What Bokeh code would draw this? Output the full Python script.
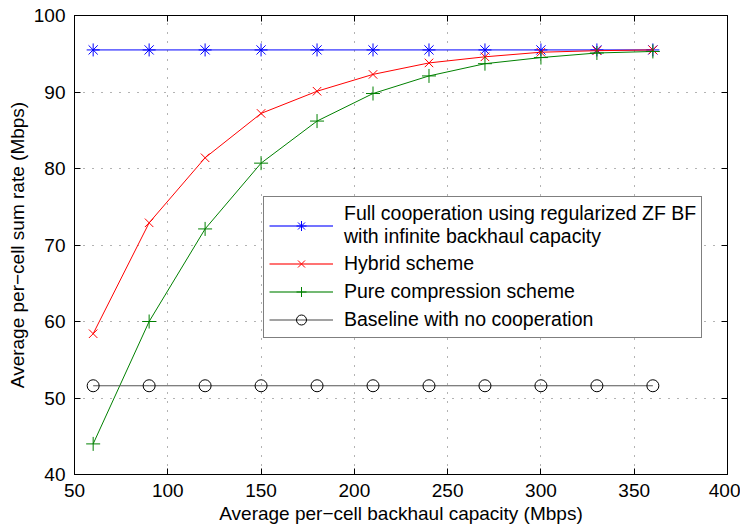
from bokeh.plotting import figure
from bokeh.models import LinearAxis, Legend, LegendItem, Range1d, FixedTicker, CustomJSTickFormatter
from bokeh.embed import file_html
from bokeh.resources import INLINE

capacity = [60, 90, 120, 150, 180, 210, 240, 270, 300, 330, 360]
full_coop = [95.5, 95.5, 95.5, 95.5, 95.5, 95.5, 95.5, 95.5, 95.5, 95.5, 95.5]
hybrid = [58.4, 72.9, 81.4, 87.2, 90.1, 92.3, 93.8, 94.6, 95.2, 95.4, 95.5]
pure = [44.0, 60.0, 72.1, 80.7, 86.2, 89.8, 92.1, 93.7, 94.5, 95.1, 95.3]
baseline = [51.6, 51.6, 51.6, 51.6, 51.6, 51.6, 51.6, 51.6, 51.6, 51.6, 51.6]

labels = [
    "Full cooperation using regularized ZF BF\nwith infinite backhaul capacity",
    "Hybrid scheme",
    "Pure compression scheme",
    "Baseline with no cooperation",
]
x_ticks = [50, 100, 150, 200, 250, 300, 350, 400]
y_ticks = [40, 50, 60, 70, 80, 90, 100]

FONT = "Liberation Sans"

p = figure(width=740, height=526, output_backend="svg", toolbar_location=None,
           x_range=Range1d(50, 400), y_range=Range1d(40, 100),
           min_border_left=74, min_border_right=13, min_border_top=15, min_border_bottom=50,
           x_axis_label="Average per\u2212cell backhaul capacity (Mbps)",
           y_axis_label="Average per\u2212cell sum rate (Mbps)")
p.outline_line_color = "black"
p.background_fill_color = "white"

for ax in (p.xaxis[0], p.yaxis[0]):
    ax.axis_line_color = "black"
    ax.major_tick_in = 6
    ax.major_tick_out = 0
    ax.minor_tick_in = 0
    ax.minor_tick_out = 0
    ax.major_label_text_font = FONT
    ax.major_label_text_font_size = "19px"
    ax.major_label_text_color = "black"
    ax.axis_label_text_font = FONT
    ax.axis_label_text_font_size = "19px"
    ax.axis_label_text_font_style = "normal"
    ax.axis_label_text_color = "black"
p.xaxis[0].ticker = FixedTicker(ticks=x_ticks)
p.yaxis[0].ticker = FixedTicker(ticks=y_ticks)
p.xaxis[0].major_label_standoff = 9
p.xaxis[0].axis_label_standoff = 3
p.yaxis[0].major_label_standoff = 9
p.yaxis[0].axis_label_standoff = 3

empty = CustomJSTickFormatter(code="return ''")
top = LinearAxis(ticker=FixedTicker(ticks=x_ticks), formatter=empty,
                 major_tick_in=6, major_tick_out=0, minor_tick_in=0, minor_tick_out=0,
                 major_label_standoff=0, axis_line_color="black")
right = LinearAxis(ticker=FixedTicker(ticks=y_ticks), formatter=empty,
                   major_tick_in=6, major_tick_out=0, minor_tick_in=0, minor_tick_out=0,
                   major_label_standoff=0, axis_line_color="black")
p.add_layout(top, "above")
p.add_layout(right, "right")

p.xgrid.ticker = FixedTicker(ticks=x_ticks)
p.ygrid.ticker = FixedTicker(ticks=y_ticks)
for g in (p.xgrid, p.ygrid):
    g.grid_line_color = "black"
    g.grid_line_alpha = 0.6
    g.grid_line_dash = "1 8"
    g.grid_line_width = 1

series = [
    (full_coop, "#0000ff", "#0000ff", "asterisk", 13),
    (hybrid, "#ff0000", "#ff0000", "x", 12),
    (pure, "#008000", "#008000", "cross", 14),
    (baseline, "#555555", "#000000", "circle", 12),
]
nan = [float("nan")]
items = []
for (vals, lcolor, mcolor, marker, size), lab in zip(series, labels):
    p.line(capacity, vals, line_color=lcolor, line_width=1)
    kw = dict(marker=marker, size=size, line_color=mcolor, line_width=1)
    if marker == "circle":
        kw["fill_color"] = None
    p.scatter(capacity, vals, **kw)
    # legend proxies (lighter, wider line as in the reference legend)
    lr = p.line(nan, nan, line_color=lcolor, line_width=2, line_alpha=0.55)
    sr = p.scatter(nan, nan, **kw)
    items.append(LegendItem(label=lab, renderers=[lr, sr]))

legend = Legend(items=items, location=(189, 136))
legend.label_text_font = FONT
legend.label_text_font_size = "19.5px"
legend.label_text_line_height = 1.28
legend.label_text_color = "black"
legend.label_height = 25
legend.glyph_height = 25
legend.border_line_color = "black"
legend.border_line_width = 1.5
legend.background_fill_color = "white"
legend.background_fill_alpha = 1
legend.glyph_width = 64
legend.label_standoff = 11
legend.spacing = 3
legend.padding = 5
legend.margin = 0
p.add_layout(legend, "center")

open("out.html", "w").write(file_html(p, INLINE))
